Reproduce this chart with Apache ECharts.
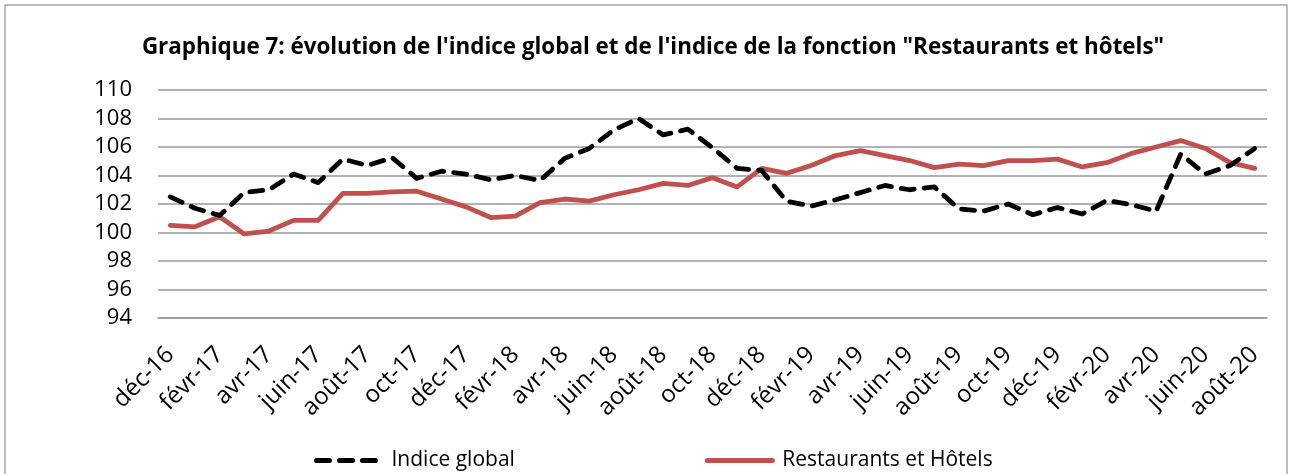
<!DOCTYPE html>
<html lang="fr">
<head>
    <meta charset="UTF-8">
    <title>Graphique 7</title>
    <script src="https://cdn.jsdelivr.net/npm/echarts@6.0.0/dist/echarts.min.js"></script>
    <style>
        html, body { margin: 0; padding: 0; background: #fff; overflow: hidden; }
    </style>
</head>
<body>
    <div id="chart" style="width: 1293px; height: 474px;"></div>
    <script>
        // mois (déc-16 -> août-20)
        var mois = [
            'déc-16', 'janv-17', 'févr-17', 'mars-17', 'avr-17', 'mai-17', 'juin-17', 'juil-17', 'août-17', 'sept-17', 'oct-17', 'nov-17',
            'déc-17', 'janv-18', 'févr-18', 'mars-18', 'avr-18', 'mai-18', 'juin-18', 'juil-18', 'août-18', 'sept-18', 'oct-18', 'nov-18',
            'déc-18', 'janv-19', 'févr-19', 'mars-19', 'avr-19', 'mai-19', 'juin-19', 'juil-19', 'août-19', 'sept-19', 'oct-19', 'nov-19',
            'déc-19', 'janv-20', 'févr-20', 'mars-20', 'avr-20', 'mai-20', 'juin-20', 'juil-20', 'août-20'
        ];

        // indice global
        var indiceGlobal = [
            102.5, 101.7, 101.2, 102.8, 103.0, 104.1, 103.5, 105.15, 104.7, 105.25, 103.8, 104.3,
            104.1, 103.7, 104.0, 103.65, 105.2, 105.9, 107.2, 108.0, 106.85, 107.25, 105.95, 104.5,
            104.35, 102.2, 101.85, 102.3, 102.8, 103.3, 103.0, 103.2, 101.65, 101.5, 102.0, 101.25,
            101.75, 101.3, 102.25, 101.95, 101.5, 105.5, 104.1, 104.7, 105.9
        ];

        // indice de la fonction "Restaurants et hôtels"
        var restaurants = [
            100.5, 100.4, 101.1, 99.9, 100.1, 100.85, 100.85, 102.75, 102.75, 102.85, 102.9, 102.35,
            101.8, 101.05, 101.15, 102.1, 102.35, 102.2, 102.65, 103.0, 103.45, 103.3, 103.85, 103.2,
            104.5, 104.15, 104.7, 105.4, 105.75, 105.4, 105.05, 104.55, 104.8, 104.7, 105.05, 105.05,
            105.15, 104.6, 104.9, 105.55, 106.0, 106.45, 105.9, 104.9, 104.5
        ];

        var police = '"Open Sans", "Noto Sans", sans-serif';

        var chart = echarts.init(document.getElementById('chart'));

        var option = {
            backgroundColor: '#fff',
            animation: false,
            textStyle: { fontFamily: police, color: '#000' },
            // cadre du graphique
            graphic: [{
                type: 'rect',
                shape: { x: 5, y: 5, width: 1282, height: 520 },
                style: { fill: 'none', stroke: '#a6a6a6', lineWidth: 1.5 },
                silent: true
            }],
            title: {
                text: 'Graphique 7: évolution de l\'indice global et de l\'indice de la fonction "Restaurants et hôtels"',
                left: 648,
                textAlign: 'center',
                top: 32,
                textStyle: { fontFamily: police, fontSize: 22.4, fontWeight: 'bold', color: '#000' }
            },
            grid: {
                left: 158,
                right: 26,
                top: 90,
                bottom: 156,
                outerBoundsMode: 'none'
            },
            legend: {
                top: 445,
                left: 309,
                itemWidth: 65,
                itemHeight: 20,
                itemGap: 190,
                itemStyle: { opacity: 0 },
                lineStyle: { width: 5 },
                textStyle: { fontFamily: police, fontSize: 21, color: '#000', padding: [0, 0, 0, 5] },
                data: ['Indice global', 'Restaurants et Hôtels']
            },
            xAxis: {
                type: 'category',
                data: mois,
                boundaryGap: true,
                axisLine: { show: true, lineStyle: { color: '#999', width: 1.5 } },
                axisTick: { show: false },
                axisLabel: {
                    interval: 1,
                    rotate: 45,
                    margin: 33,
                    fontSize: 24,
                    color: '#000',
                    fontFamily: police
                }
            },
            yAxis: {
                type: 'value',
                min: 94,
                max: 110,
                interval: 2,
                axisLine: { show: false },
                axisTick: { show: false },
                splitLine: { lineStyle: { color: '#999', width: 1.5 } },
                axisLabel: { margin: 26, fontSize: 22, color: '#000', fontFamily: police }
            },
            series: [
                {
                    name: 'Indice global',
                    type: 'line',
                    data: indiceGlobal,
                    symbol: 'none',
                    color: '#000',
                    lineStyle: { color: '#000', width: 4.8, type: [13, 10], cap: 'round', join: 'round' },
                    z: 3
                },
                {
                    name: 'Restaurants et Hôtels',
                    type: 'line',
                    data: restaurants,
                    symbol: 'none',
                    color: '#c0504d',
                    lineStyle: { color: '#c0504d', width: 4.8, cap: 'round', join: 'round' },
                    z: 2
                }
            ]
        };

        chart.setOption(option);
    </script>
</body>
</html>
